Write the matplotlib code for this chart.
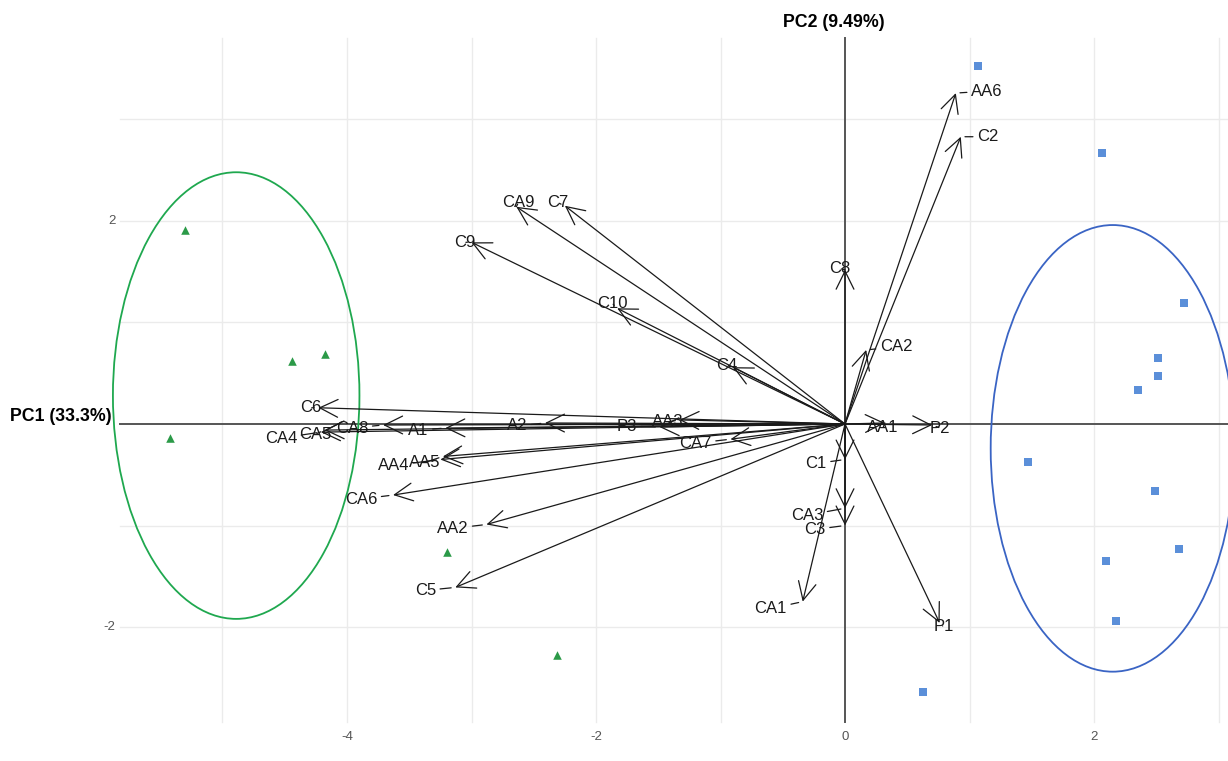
import numpy as np
import matplotlib.pyplot as plt
from matplotlib.patches import Ellipse

plt.rcParams['font.family'] = ['Liberation Sans', 'DejaVu Sans']

# Переменные (нагрузки) PC1 / PC2
var_names = ['AA6', 'C2', 'C8', 'CA2', 'AA1', 'P2', 'C1', 'CA3', 'C3', 'CA1', 'P1',
             'C4', 'C10', 'C9', 'CA9', 'C7', 'C6', 'CA4', 'CA5', 'CA8', 'A1', 'A2',
             'P3', 'AA3', 'CA7', 'AA5', 'AA4', 'CA6', 'AA2', 'C5']
var_pc1 = [0.89, 0.93, 0.00, 0.17, 0.32, 0.70, 0.00, 0.00, 0.00, -0.34, 0.76,
           -0.90, -1.83, -3.00, -2.64, -2.25, -4.23, -4.21, -4.18, -3.71, -3.21, -2.41,
           -1.49, -1.33, -0.92, -3.23, -3.25, -3.63, -2.88, -3.13]
var_pc2 = [3.26, 2.83, 1.52, 0.73, 0.01, -0.01, -0.35, -0.83, -1.00, -1.75, -1.96,
           0.56, 1.14, 1.79, 2.14, 2.15, 0.16, -0.08, -0.06, -0.01, -0.04, 0.01,
           -0.03, 0.04, -0.15, -0.32, -0.35, -0.70, -0.99, -1.61]

# Образцы: группа 1 (треугольники) и группа 2 (квадраты)
grp1_pc1 = [-5.30, -4.44, -4.18, -5.42, -3.20, -2.31]
grp1_pc2 = [1.91, 0.62, 0.69, -0.14, -1.26, -2.28]
grp2_pc1 = [1.07, 2.06, 2.72, 2.51, 2.51, 2.35, 1.47, 2.49, 2.68, 2.10, 2.18, 0.63]
grp2_pc2 = [3.53, 2.67, 1.19, 0.65, 0.47, 0.33, -0.37, -0.66, -1.23, -1.35, -1.94, -2.64]

# Эллипсы групп: центр, ширина, высота
ell1 = (-4.89, 0.28, 1.98, 4.40)
ell2 = (2.15, -0.24, 1.96, 4.40)

x_ticks = [-4, -2, 0, 2]
y_ticks = [2, -2]

# Смещения подписей (пиксели) относительно концов стрелок
label_nudge = {
    'AA6': (31, 2), 'C2': (27, 0), 'C8': (-5, 1), 'CA2': (30, 3), 'AA1': (-2, -5),
    'P2': (8, -3), 'C1': (-29, -4), 'CA3': (-38, -7), 'C3': (-30, -4), 'CA1': (-32, -7),
    'P1': (4, -4), 'C4': (-6, 2), 'C10': (-5, 5), 'C9': (-7, 0), 'CA9': (2, 4),
    'C7': (-7, 3), 'C6': (-8, 0), 'CA4': (-40, -6), 'CA5': (-9, -4), 'CA8': (-31, -3),
    'A1': (-27, -2), 'A2': (-28, -3), 'P3': (-33, 1), 'AA3': (-12, -2), 'CA7': (-35, -4),
    'AA5': (-18, -6), 'AA4': (-47, -6), 'CA6': (-32, -4), 'AA2': (-34, -4), 'C5': (-30, -3),
}

fig = plt.figure(figsize=(12.28, 7.61), dpi=100)
ax = fig.add_axes([0, 0, 1, 1])
ax.set_xlim(-6.787, 3.076)
ax.set_ylim(-3.32, 4.177)
ax.axis('off')

# сетка
grid_c = '#ebebeb'
for gx in [-5, -4, -3, -2, -1, 1, 2, 3]:
    ax.plot([gx, gx], [-2.94, 3.80], color=grid_c, lw=1.0, zorder=0)
for gy in [-2, -1, 1, 2, 3]:
    ax.plot([-5.82, 3.1], [gy, gy], color=grid_c, lw=1.0, zorder=0)

# оси PC1 / PC2
ax.plot([-5.82, 3.1], [0, 0], color='#555555', lw=1.4, zorder=1)
ax.plot([0, 0], [-2.94, 3.80], color='#555555', lw=1.4, zorder=1)
ax.text(-6.71, 0.07, 'PC1 (33.3%)', fontsize=12.8, fontweight='bold', ha='left', va='center')
ax.text(-0.09, 3.96, 'PC2 (9.49%)', fontsize=12.8, fontweight='bold', ha='center', va='center')

for t in x_ticks:
    ax.text(t, -3.08, str(t), fontsize=9.5, color='#555555', ha='center', va='center')
for t in y_ticks:
    ax.text(-5.86, t, str(t), fontsize=9.5, color='#555555', ha='right', va='center')

# эллипсы
for (cx, cy, w, h), col in [(ell1, '#1fa84f'), (ell2, '#3a64c4')]:
    ax.add_patch(Ellipse((cx, cy), w, h, fill=False, edgecolor=col, lw=1.3, zorder=2))

ax.scatter(grp1_pc1, grp1_pc2, marker='^', s=38, color='#2b9a48', linewidths=0, zorder=3)
ax.scatter(grp2_pc1, grp2_pc2, marker='s', s=30, color='#5b8fd9', linewidths=0, zorder=3)

# стрелки нагрузок
for name, x, y in zip(var_names, var_pc1, var_pc2):
    ax.annotate('', xy=(x, y), xytext=(0, 0),
                arrowprops=dict(arrowstyle='->,head_length=0.65,head_width=0.32',
                                color='#1a1a1a', lw=0.9, shrinkA=0, shrinkB=0,
                                mutation_scale=20), zorder=4)
    dx, dy = label_nudge[name]
    ax.annotate(name, xy=(x, y), xytext=(dx, dy), textcoords='offset pixels',
                fontsize=12, color='#1a1a1a', ha='center', va='center',
                arrowprops=dict(arrowstyle='-', color='#1a1a1a', lw=0.9,
                                shrinkA=1, shrinkB=3), zorder=5)

fig.savefig('out.png', dpi=100)
